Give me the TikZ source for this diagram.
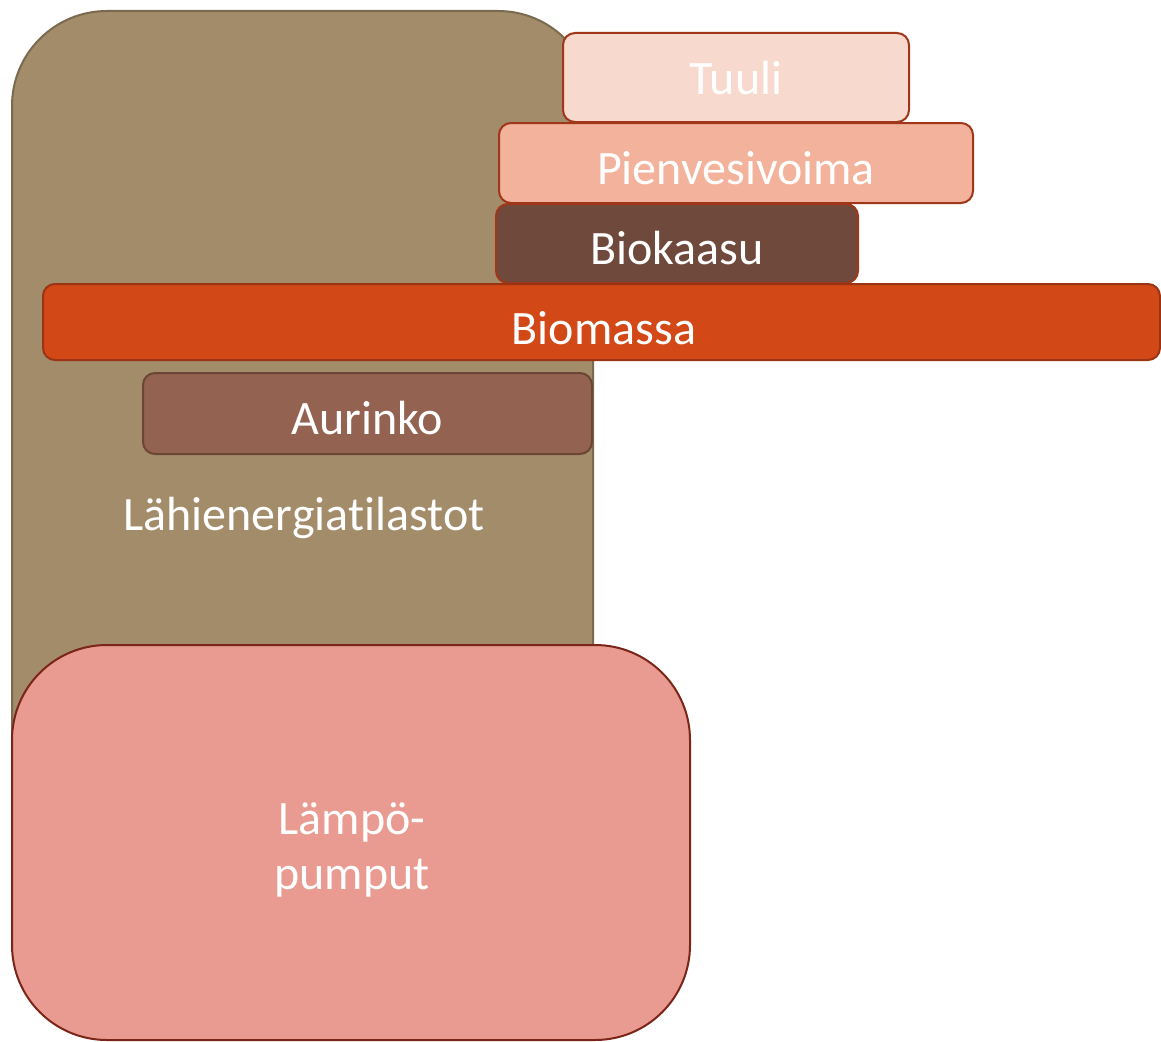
\documentclass[tikz,border=0pt]{standalone}
\usepackage{fontspec}
\setmainfont{Carlito}[Ligatures={NoCommon}]
\definecolor{tanfill}{HTML}{A38C6A}
\definecolor{tanline}{HTML}{7A6A4F}
\definecolor{edgered}{HTML}{A0361A}
\definecolor{tuulifill}{HTML}{F8D9CD}
\definecolor{pienfill}{HTML}{F3B29B}
\definecolor{biokfill}{HTML}{6F4A3C}
\definecolor{biomfill}{HTML}{D24817}
\definecolor{biomline}{HTML}{9A3414}
\definecolor{aurfill}{HTML}{946251}
\definecolor{aurline}{HTML}{6B4536}
\definecolor{lampfill}{HTML}{E99B91}
\definecolor{lampline}{HTML}{7B2418}
\begin{document}
\begin{tikzpicture}[x=1pt,y=-1pt,
  bar/.style={draw=edgered,line width=2pt,rounded corners=12pt,inner sep=0pt},
  label/.style={text=white,font=\fontsize{48}{55}\selectfont,inner sep=0pt,align=center}]
\useasboundingbox (0,0) rectangle (1161,1041);
% big background panel
\draw[fill=tanfill,draw=tanline,line width=2pt,rounded corners=95pt] (12,11) rectangle (593,1030);
% energy source bars
\draw[bar,fill=tuulifill] (563,33) rectangle (909,122);
\node[label] (tuuli) at (736,78) {Tuuli};
\draw[bar,fill=pienfill] (499,123) rectangle (973,203);
\node[label] (pien) at (736,168) {Pienvesivoima};
\draw[bar,fill=biokfill] (496,204) rectangle (858,283);
\node[label] (biok) at (677,248) {Biokaasu};
\draw[bar,fill=biomfill,draw=biomline] (43,284) rectangle (1160,360);
\node[label] (biom) at (604,328) {Biomassa};
\draw[bar,fill=aurfill,draw=aurline] (143,373) rectangle (592,454);
\node[label] (aur) at (367,418) {Aurinko};
\node[label] (lahi) at (304,518) {Lähienergiatilastot};
% heat pumps
\draw[fill=lampfill,draw=lampline,line width=2pt,rounded corners=95pt] (12,645) rectangle (690,1040);
\node[label] (lamp) at (352,850) {Lämpö-\\pumput};
\end{tikzpicture}
\end{document}
